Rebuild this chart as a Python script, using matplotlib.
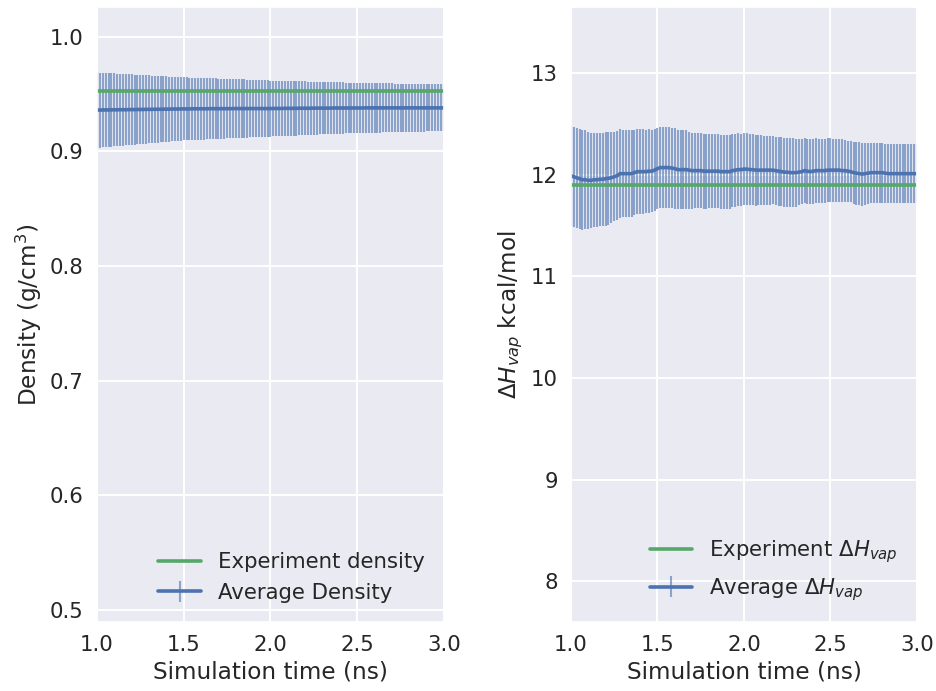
import numpy as np
import matplotlib
matplotlib.use("Agg")
import matplotlib.pyplot as plt
import seaborn as sns

# sampling times (ns)
time_ns = np.linspace(1.0, 3.0, 121)

exp_density = 0.953
avg_density = [
    0.9361, 0.9361, 0.9362, 0.9362, 0.9362, 0.9363, 0.9363, 0.9363, 0.9364, 0.9364,
    0.9364, 0.9365, 0.9365, 0.9365, 0.9366, 0.9366, 0.9366, 0.9367, 0.9367, 0.9367,
    0.9368, 0.9368, 0.9368, 0.9369, 0.9369, 0.9369, 0.9370, 0.9370, 0.9370, 0.9371,
    0.9371, 0.9371, 0.9371, 0.9372, 0.9372, 0.9372, 0.9372, 0.9372, 0.9372, 0.9373,
    0.9373, 0.9373, 0.9373, 0.9373, 0.9373, 0.9373, 0.9373, 0.9374, 0.9374, 0.9374,
    0.9374, 0.9374, 0.9374, 0.9374, 0.9374, 0.9374, 0.9374, 0.9374, 0.9374, 0.9374,
    0.9374, 0.9375, 0.9375, 0.9375, 0.9375, 0.9376, 0.9376, 0.9376, 0.9376, 0.9376,
    0.9377, 0.9377, 0.9377, 0.9377, 0.9377, 0.9378, 0.9378, 0.9378, 0.9378, 0.9378,
    0.9378, 0.9378, 0.9379, 0.9379, 0.9379, 0.9379, 0.9379, 0.9379, 0.9379, 0.9379,
    0.9379, 0.9379, 0.9379, 0.9380, 0.9380, 0.9380, 0.9380, 0.9380, 0.9380, 0.9380,
    0.9380, 0.9380, 0.9380, 0.9380, 0.9380, 0.9380, 0.9380, 0.9380, 0.9380, 0.9380,
    0.9380, 0.9380, 0.9380, 0.9380, 0.9380, 0.9380, 0.9380, 0.9380, 0.9380, 0.9380,
    0.9380,
]
err_density = [
    0.0329, 0.0327, 0.0325, 0.0324, 0.0322, 0.0320, 0.0318, 0.0316, 0.0315, 0.0313,
    0.0311, 0.0309, 0.0307, 0.0306, 0.0304, 0.0302, 0.0300, 0.0298, 0.0297, 0.0295,
    0.0293, 0.0291, 0.0289, 0.0288, 0.0286, 0.0284, 0.0282, 0.0280, 0.0279, 0.0277,
    0.0275, 0.0274, 0.0273, 0.0272, 0.0271, 0.0270, 0.0269, 0.0268, 0.0267, 0.0266,
    0.0265, 0.0264, 0.0263, 0.0262, 0.0261, 0.0260, 0.0259, 0.0258, 0.0257, 0.0256,
    0.0255, 0.0254, 0.0253, 0.0252, 0.0251, 0.0249, 0.0248, 0.0247, 0.0246, 0.0245,
    0.0244, 0.0243, 0.0242, 0.0242, 0.0241, 0.0240, 0.0239, 0.0238, 0.0237, 0.0237,
    0.0236, 0.0235, 0.0234, 0.0233, 0.0232, 0.0232, 0.0231, 0.0230, 0.0229, 0.0228,
    0.0227, 0.0227, 0.0226, 0.0225, 0.0224, 0.0223, 0.0222, 0.0222, 0.0221, 0.0220,
    0.0219, 0.0218, 0.0218, 0.0217, 0.0217, 0.0216, 0.0216, 0.0215, 0.0215, 0.0214,
    0.0214, 0.0213, 0.0213, 0.0212, 0.0212, 0.0211, 0.0211, 0.0210, 0.0210, 0.0209,
    0.0208, 0.0208, 0.0207, 0.0207, 0.0206, 0.0206, 0.0205, 0.0205, 0.0204, 0.0204,
    0.0203,
]

exp_hvap = 11.9
avg_hvap = [
    11.99, 11.98, 11.97, 11.96, 11.95, 11.95, 11.945, 11.945, 11.95, 11.95,
    11.955, 11.955, 11.96, 11.965, 11.97, 11.98, 11.99, 12.01, 12.01, 12.01,
    12.01, 12.01, 12.02, 12.03, 12.03, 12.03, 12.03, 12.035, 12.035, 12.045,
    12.06, 12.07, 12.07, 12.07, 12.07, 12.065, 12.06, 12.05, 12.05, 12.05,
    12.05, 12.045, 12.04, 12.04, 12.04, 12.04, 12.035, 12.035, 12.035, 12.035,
    12.035, 12.035, 12.03, 12.03, 12.03, 12.03, 12.04, 12.045, 12.05, 12.05,
    12.055, 12.055, 12.05, 12.05, 12.045, 12.045, 12.045, 12.045, 12.045, 12.045,
    12.045, 12.04, 12.035, 12.03, 12.025, 12.025, 12.02, 12.02, 12.02, 12.025,
    12.03, 12.04, 12.035, 12.03, 12.035, 12.04, 12.04, 12.04, 12.04, 12.045,
    12.045, 12.045, 12.045, 12.045, 12.04, 12.04, 12.035, 12.03, 12.02, 12.015,
    12.01, 12.006, 12.01, 12.015, 12.02, 12.02, 12.02, 12.02, 12.02, 12.015,
    12.01, 12.01, 12.01, 12.01, 12.01, 12.01, 12.01, 12.01, 12.01, 12.01,
    12.01,
]
err_hvap = [
    0.49, 0.49, 0.49, 0.49, 0.49, 0.485, 0.48, 0.47, 0.46, 0.46,
    0.46, 0.46, 0.46, 0.455, 0.45, 0.44, 0.44, 0.435, 0.43, 0.43,
    0.43, 0.425, 0.42, 0.42, 0.415, 0.415, 0.41, 0.41, 0.405, 0.405,
    0.40, 0.40, 0.40, 0.40, 0.395, 0.395, 0.395, 0.39, 0.39, 0.39,
    0.385, 0.38, 0.375, 0.37, 0.37, 0.37, 0.37, 0.37, 0.365, 0.365,
    0.365, 0.365, 0.365, 0.365, 0.365, 0.365, 0.36, 0.36, 0.36, 0.355,
    0.355, 0.355, 0.35, 0.35, 0.35, 0.345, 0.345, 0.34, 0.34, 0.34,
    0.335, 0.335, 0.34, 0.34, 0.34, 0.34, 0.34, 0.34, 0.335, 0.325,
    0.32, 0.32, 0.32, 0.32, 0.32, 0.32, 0.315, 0.315, 0.315, 0.315,
    0.315, 0.31, 0.31, 0.31, 0.31, 0.305, 0.30, 0.30, 0.305, 0.31,
    0.31, 0.31, 0.305, 0.30, 0.295, 0.295, 0.295, 0.295, 0.295, 0.29,
    0.29, 0.29, 0.29, 0.29, 0.29, 0.29, 0.29, 0.29, 0.29, 0.29,
    0.29,
]

sns.set_theme(style="darkgrid", context="notebook", font_scale=1.39)
plt.rcParams["font.family"] = ["DejaVu Sans"]
plt.rcParams["mathtext.fontset"] = "dejavusans"
plt.rcParams["grid.linewidth"] = 1.4
plt.rcParams["lines.linewidth"] = 2.6
plt.rcParams["legend.frameon"] = False

blue = "#4C72B0"
green = "#55A868"

fig = plt.figure(figsize=(9.36, 6.91), dpi=100)
ax1 = fig.add_axes([0.1036, 0.0999, 0.3707, 0.8900])
ax2 = fig.add_axes([0.6100, 0.0999, 0.3697, 0.8900])


def draw(ax, avg, err, exp, avg_label, exp_label):
    eb = ax.errorbar(time_ns, avg, yerr=err, color=blue, elinewidth=1.5,
                     label=avg_label)
    for col in eb[2]:
        col.set_alpha(0.6)
    ax.plot(time_ns, np.full(len(time_ns), exp), color=green, label=exp_label)
    ax.set_xlim(1.0, 3.0)
    ax.set_xticks([1.0, 1.5, 2.0, 2.5, 3.0])
    ax.set_xlabel("Simulation time (ns)")
    ax.legend(loc="lower right")


draw(ax1, avg_density, err_density, exp_density,
     "Average Density", "Experiment density")
ax1.set_ylim(0.4896, 1.026)
ax1.set_yticks([0.5, 0.6, 0.7, 0.8, 0.9, 1.0])
ax1.set_ylabel("Density (g/cm$^3$)")

draw(ax2, avg_hvap, err_hvap, exp_hvap,
     r"Average $\Delta H_{vap}$", r"Experiment $\Delta H_{vap}$")
ax2.set_ylim(7.6, 13.65)
ax2.set_yticks([8, 9, 10, 11, 12, 13])
ax2.set_ylabel(r"$\Delta H_{vap}$ kcal/mol")

fig.savefig("out.png", dpi=100)
